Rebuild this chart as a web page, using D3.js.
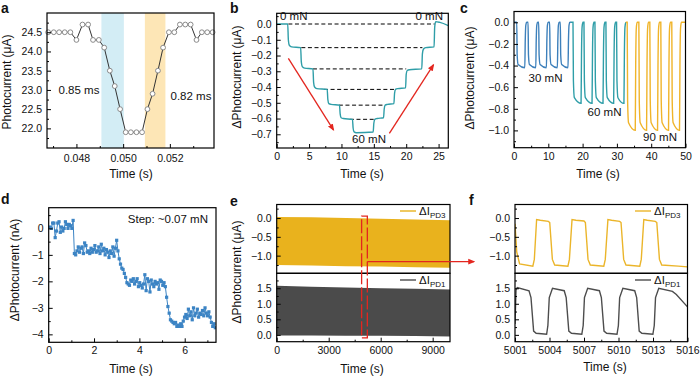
<!DOCTYPE html>
<html>
<head>
<meta charset="utf-8">
<script src="https://cdn.jsdelivr.net/npm/d3@7/dist/d3.min.js"></script>
<style>
  body { margin: 0; background: #fff; }
  svg { font-family: "Liberation Sans", Arial, Helvetica, sans-serif; }
</style>
</head>
<body>
<div id="chart"></div>
<script>
// ---------- values ----------

// (a) single press / release pulse
var aTime = [0.04679, 0.04703, 0.04726, 0.04750, 0.04774, 0.04800, 0.04826, 0.04850, 0.04871, 0.04896,
             0.04919, 0.04943, 0.04964, 0.04987, 0.05011, 0.05033, 0.05057, 0.05081, 0.05104, 0.05126,
             0.05149, 0.05171, 0.05196, 0.05219, 0.05243, 0.05266, 0.05289, 0.05314, 0.05337, 0.05360, 0.05383];
var aCurrent = [24.5, 24.5, 24.5, 24.5, 24.5, 24.3, 24.7, 24.7, 24.3, 24.3,
                24.1, 23.5, 23.1, 22.5, 21.9, 21.9, 21.9, 21.9, 22.5, 22.9,
                23.5, 24.1, 24.5, 24.5, 24.7, 24.7, 24.7, 24.3, 24.5, 24.5, 24.5];
var aFallBand = [0.04907, 0.05003];
var aRiseBand = [0.05093, 0.05181];
var aXTicks = [0.048, 0.050, 0.052];
var aYTicks = [22.0, 22.5, 23.0, 23.5, 24.0, 24.5];

// (b) staircase loading 0 -> 60 mN -> 0
var bTime = [0, 1.7, 1.8, 1.95, 2.3, 3.7, 3.8, 3.95, 4.3, 5.6, 5.7, 5.85, 6.2, 7.8, 7.9, 8.05, 8.4,
             9.7, 9.8, 9.95, 10.3, 11.7, 11.8, 11.95, 12.3, 14.9, 15.0, 15.15, 15.5, 16.5, 16.6, 16.75, 17.1,
             18.1, 18.2, 18.35, 18.7, 19.9, 20.0, 20.15, 20.5, 22.4, 22.5, 22.65, 23.0, 24.3, 24.4, 24.55, 25.2, 26.5];
var bValue = [0, 0, -0.1, -0.135, -0.145, -0.15, -0.24, -0.27, -0.28, -0.285, -0.37, -0.40, -0.41,
              -0.415, -0.48, -0.505, -0.51, -0.515, -0.57, -0.595, -0.60, -0.605, -0.66, -0.685, -0.69,
              -0.685, -0.63, -0.605, -0.60, -0.595, -0.54, -0.515, -0.51, -0.505, -0.44, -0.415, -0.41,
              -0.405, -0.32, -0.295, -0.29, -0.285, -0.19, -0.16, -0.15, -0.145, -0.02, 0.015, 0.01, -0.01];
var bDashLevel = [0, -0.15, -0.285, -0.415, -0.515, -0.605];
var bDashStart = [1.8, 3.8, 5.6, 7.3, 9.6, 11.3];
var bDashEnd = [24.4, 22.5, 20.0, 18.2, 16.6, 15.0];
var bXTicks = [0, 5, 10, 15, 20, 25];
var bYTicks = [0, -0.1, -0.2, -0.3, -0.4, -0.5, -0.6, -0.7];

// (c) repeated pulses at three forces
var cForce = ['30 mN', '60 mN', '90 mN'];
var cSpan = [[0, 16.6], [16.6, 32.6], [32.6, 50]];
var cLevel = [-0.42, -0.75, -1.0];
var cDown = [[0.8, 4.1, 7.2, 10.4, 13.5], [17.2, 20.4, 23.6, 26.8, 29.9], [33.0, 36.4, 39.6, 42.8, 46.0]];
var cUp = [[3.2, 6.4, 9.5, 12.7, 15.8], [19.6, 22.8, 26.0, 29.1, 32.1], [35.4, 38.7, 41.9, 45.1, 48.3]];
var cXTicks = [0, 10, 20, 30, 40, 50];
var cYTicks = [0, -0.2, -0.4, -0.6, -0.8, -1.0];

// (d) fine steps, nA, sampled every dStep seconds
var dStart = 0.06, dStep = 0.0565;
var dValue = [0.05, 0.0, 0.2, 0.2, -0.35, -0.1, 0.2, 0.25, -0.15, 0.05, -0.1, 0.0, 0.25, 0.15, 0.0, 0.15, 0.1, 0.0, 0.3,
              -0.95, -1.0, -0.85, -0.7, -0.9, -0.75, -0.7, -0.95, -0.55, -0.65, -0.9, -0.85, -0.95, -0.75, -0.9, -0.8,
              -0.65, -0.9, -0.85, -0.7, -0.95, -0.6, -0.85, -0.75, -1.0, -0.8, -0.9, -1.1, -0.85, -0.95, -0.7, -1.05,
              -0.75, -0.45,
              -0.85, -1.15, -1.35, -1.5, -1.55, -1.7, -1.85, -2.05, -2.1,
              -2.15, -1.95, -2.0, -1.9, -2.1, -2.0, -1.9, -2.2, -2.05, -2.15, -2.25, -2.1, -1.75, -2.35, -1.9,
              -2.0, -2.4, -1.95, -2.1, -2.2, -2.0, -2.1, -2.05, -2.3, -1.95, -2.0, -2.15, -2.05, -2.2,
              -2.6, -2.95, -3.2, -3.45,
              -3.5, -3.55, -3.6, -3.55, -3.7, -3.65, -3.7, -3.6, -3.7, -3.5, -3.35,
              -3.25, -3.4, -3.05, -3.3, -3.15, -3.45, -3.0, -3.3, -3.2, -3.05, -3.35, -3.2, -3.25, -3.1, -3.3, -3.0, -3.2, -3.3,
              -3.15, -3.35, -3.55, -3.7, -3.6, -3.75];
var dXTicks = [0, 2, 4, 6];
var dYTicks = [0, -1, -2, -3, -4];

// (e) long-term cycling, envelopes of the dense oscillation (uA)
var eTime = [0, 2000, 4000, 6000, 8000, 10000];
var ePd3Top = [0.03, 0.02, 0.0, -0.02, -0.04, -0.06];
var ePd3Bottom = [-1.25, -1.26, -1.28, -1.29, -1.31, -1.32];
var ePd1Top = [1.58, 1.55, 1.52, 1.5, 1.48, 1.46];
var ePd1Bottom = [-0.02, -0.02, -0.03, -0.03, -0.04, -0.05];
var eZoomWindow = [4900, 5230];
var eXTicks = [0, 3000, 6000, 9000];

// (f) zoom on 5001-5016 s
var fTime3 = [5001.0, 5001.15, 5001.4, 5002.55, 5002.68, 5002.88, 5003.2, 5003.9, 5004.02, 5004.25, 5004.45,
              5005.6, 5005.73, 5005.96, 5006.3, 5007.0, 5007.12, 5007.35, 5007.55, 5008.72, 5008.85, 5009.08,
              5009.4, 5010.1, 5010.22, 5010.45, 5010.65, 5011.85, 5011.98, 5012.2, 5012.5, 5013.2, 5013.33,
              5013.56, 5013.76, 5015.2, 5016.0];
var fValue3 = [-0.15, -0.9, -1.22, -1.28, -1.1, -0.04, -0.06, -0.09, -0.12, -1.1, -1.25,
               -1.28, -1.1, -0.04, -0.06, -0.08, -0.12, -1.1, -1.25, -1.28, -1.1, -0.04,
               -0.06, -0.09, -0.12, -1.1, -1.25, -1.28, -1.1, -0.04, -0.06, -0.09, -0.12,
               -1.1, -1.25, -1.28, -1.3];
var fTime1 = [5001.0, 5001.09, 5001.2, 5002.22, 5002.39, 5002.62, 5002.84, 5003.75, 5003.86, 5003.98,
              5004.26, 5005.28, 5005.45, 5005.68, 5005.91, 5006.81, 5006.93, 5007.04, 5007.32, 5008.34,
              5008.51, 5008.74, 5008.97, 5009.87, 5009.99, 5010.10, 5010.38, 5011.41, 5011.58, 5011.80,
              5012.03, 5012.99, 5013.11, 5013.22, 5013.50, 5014.69, 5015.03, 5016.0];
var fValue1 = [0.35, 1.45, 1.52, 1.42, 1.2, 0.12, 0.05, 0.02, 0.3, 1.2,
               1.5, 1.42, 1.2, 0.12, 0.05, 0.02, 0.3, 1.2, 1.5, 1.42,
               1.2, 0.12, 0.05, 0.02, 0.3, 1.2, 1.5, 1.42, 1.2, 0.12,
               0.05, 0.02, 0.3, 1.2, 1.5, 1.4, 1.3, 0.9];
var fXTicks = [5001, 5004, 5007, 5010, 5013, 5016];
var pd3Ticks = [0, -0.5, -1.0];
var pd1Ticks = [0, 0.5, 1.0, 1.5];

// ---------- drawing ----------
var red = '#e3261f', teal = '#2f9ea8', blue = '#3d80bb', gold = '#f0b429';
var tickFont = 10.5, titleFont = 12;

var svg = d3.select('#chart').append('svg').attr('width', 700).attr('height', 377);
var defs = svg.append('defs');
defs.append('marker').attr('id', 'arrowRed')
    .attr('viewBox', '0 0 10 10').attr('refX', 8).attr('refY', 5)
    .attr('markerWidth', 5.5).attr('markerHeight', 5.5).attr('orient', 'auto')
  .append('path').attr('d', 'M0,1 L10,5 L0,9 Z').attr('fill', red);

var clipCount = 0;
function clip(x, y) {
  var id = 'clip' + (clipCount++);
  defs.append('clipPath').attr('id', id).append('rect')
      .attr('x', x.range()[0]).attr('y', y.range()[1])
      .attr('width', x.range()[1] - x.range()[0])
      .attr('height', y.range()[0] - y.range()[1]);
  return 'url(#' + id + ')';
}

function frame(x, y) {
  svg.append('rect')
     .attr('x', x.range()[0]).attr('y', y.range()[1])
     .attr('width', x.range()[1] - x.range()[0])
     .attr('height', y.range()[0] - y.range()[1])
     .attr('fill', 'none').attr('stroke', '#000').attr('stroke-width', 1.2);
}

function styleAxis(g) {
  g.select('.domain').remove();
  g.attr('font-family', null).attr('font-size', tickFont);
  g.selectAll('line').attr('stroke', '#000');
  g.selectAll('text').attr('fill', '#111');
}

function axisY(x, y, major, minor, fmt) {
  var x0 = x.range()[0];
  svg.append('g').attr('transform', 'translate(' + x0 + ',0)')
     .call(d3.axisLeft(y).tickValues(minor).tickSize(-2).tickFormat(''))
     .call(styleAxis);
  svg.append('g').attr('transform', 'translate(' + x0 + ',0)')
     .call(d3.axisLeft(y).tickValues(major).tickSize(-4).tickPadding(5).tickFormat(fmt))
     .call(styleAxis);
}

function axisX(x, y, major, minor, fmt, pad) {
  var y0 = y.range()[0];
  svg.append('g').attr('transform', 'translate(0,' + y0 + ')')
     .call(d3.axisBottom(x).tickValues(minor).tickSize(-2).tickFormat(''))
     .call(styleAxis);
  svg.append('g').attr('transform', 'translate(0,' + y0 + ')')
     .call(d3.axisBottom(x).tickValues(major).tickSize(-4).tickPadding(pad).tickFormat(fmt))
     .call(styleAxis);
}

function label(txt, x, y, opts) {
  opts = opts || {};
  var t = svg.append('text').attr('x', x).attr('y', y)
     .attr('font-size', opts.size || tickFont)
     .attr('text-anchor', opts.anchor || 'start')
     .attr('fill', '#111')
     .text(txt);
  if (opts.bold) t.attr('font-weight', 'bold');
  if (opts.rotate) t.attr('transform', 'rotate(-90,' + x + ',' + y + ')');
  return t;
}

function panelLetter(txt, x, y) { label(txt, x, y, {size: 14, bold: true}); }

function range(a, b, s) { return d3.range(a, b + s / 2, s); }

// ----- (a)
var ax = d3.scaleLinear().domain([0.04674, 0.05389]).range([47, 214]);
var ay = d3.scaleLinear().domain([21.49, 25.0]).range([148, 13]);
var aClip = clip(ax, ay);
[[aFallBand, '#d3edf5'], [aRiseBand, '#fde6b6']].forEach(function(b) {
  svg.append('rect').attr('clip-path', aClip)
     .attr('x', ax(b[0][0])).attr('width', ax(b[0][1]) - ax(b[0][0]))
     .attr('y', ay.range()[1]).attr('height', ay.range()[0] - ay.range()[1])
     .attr('fill', b[1]);
});
var aPts = aTime.map(function(t, i) { return [t, aCurrent[i]]; });
svg.append('path').datum(aPts).attr('clip-path', aClip)
   .attr('fill', 'none').attr('stroke', '#333').attr('stroke-width', 1)
   .attr('d', d3.line().x(function(d) { return ax(d[0]); }).y(function(d) { return ay(d[1]); }));
svg.append('g').selectAll('circle').data(aPts).enter().append('circle')
   .attr('cx', function(d) { return ax(d[0]); }).attr('cy', function(d) { return ay(d[1]); })
   .attr('r', 2.4).attr('fill', '#fff').attr('stroke', '#8a8a8a').attr('stroke-width', 1);
frame(ax, ay);
axisY(ax, ay, aYTicks, range(21.75, 24.75, 0.5), d3.format('.1f'));
axisX(ax, ay, aXTicks, [0.047, 0.049, 0.051, 0.053], d3.format('.3f'), 7);
label('0.85 ms', 79, 94, {size: 11.5, anchor: 'middle'});
label('0.82 ms', 191, 100, {size: 11.5, anchor: 'middle'});
label('Photocurrent (\u03bcA)', 11, 82, {size: titleFont, anchor: 'middle', rotate: true});
label('Time (s)', 131, 178, {size: titleFont, anchor: 'middle'});
panelLetter('a', 1, 13);

// ----- (b)
var bx = d3.scaleLinear().domain([0, 26.5]).range([276.7, 448.3]);
var by = d3.scaleLinear().domain([-0.787, 0.068]).range([148, 13.3]);
var bClip = clip(bx, by);
bDashLevel.forEach(function(v, i) {
  svg.append('line')
     .attr('x1', bx(bDashStart[i])).attr('x2', bx(bDashEnd[i]))
     .attr('y1', by(v)).attr('y2', by(v))
     .attr('stroke', '#000').attr('stroke-width', 1).attr('stroke-dasharray', '4,2.6');
});
svg.append('path').datum(bTime.map(function(t, i) { return [t, bValue[i]]; }))
   .attr('clip-path', bClip).attr('fill', 'none').attr('stroke', teal).attr('stroke-width', 1.4)
   .attr('d', d3.line().curve(d3.curveMonotoneX)
                .x(function(d) { return bx(d[0]); }).y(function(d) { return by(d[1]); }));
[[1.8, -0.218, 8.76, -0.672], [17.4, -0.694, 24.2, -0.26]].forEach(function(a) {
  svg.append('line')
     .attr('x1', bx(a[0])).attr('y1', by(a[1])).attr('x2', bx(a[2])).attr('y2', by(a[3]))
     .attr('stroke', red).attr('stroke-width', 1.3).attr('marker-end', 'url(#arrowRed)');
});
frame(bx, by);
axisY(bx, by, bYTicks, range(-0.75, 0.05, 0.1), d3.format('.1f'));
axisX(bx, by, bXTicks, [2.5, 7.5, 12.5, 17.5, 22.5], d3.format('d'), 5);
label('0 mN', 280, 20, {size: 11.5});
label('0 mN', 443, 20, {size: 11.5, anchor: 'end'});
label('60 mN', 369, 142.5, {size: 11.5, anchor: 'middle'});
label('\u0394Photocurrent (\u03bcA)', 241, 77, {size: titleFont, anchor: 'middle', rotate: true});
label('Time (s)', 362, 178, {size: titleFont, anchor: 'middle'});
panelLetter('b', 230, 13);

// ----- (c)
var cx = d3.scaleLinear().domain([0, 50]).range([514, 685.5]);
var cy = d3.scaleLinear().domain([-1.16, 0.10]).range([147.7, 11.5]);
var cClip = clip(cx, cy);
var cColor = [blue, teal, gold];
var cLine = d3.line().curve(d3.curveMonotoneX)
              .x(function(d) { return cx(d[0]); }).y(function(d) { return cy(d[1]); });
cSpan.forEach(function(span, k) {
  var L = cLevel[k];
  var pts = [[span[0], 0]];
  cDown[k].forEach(function(td, i) {
    var tu = cUp[k][i];
    pts.push([td, 0], [td + 0.12, 0.72 * L], [td + 0.4, 0.93 * L], [tu - 0.05, L],
             [tu + 0.08, 0.4 * L], [tu + 0.25, 0.06 * L], [tu + 0.5, 0]);
  });
  pts.push([span[1], 0]);
  svg.append('path').datum(pts).attr('clip-path', cClip)
     .attr('fill', 'none').attr('stroke', cColor[k]).attr('stroke-width', 1.4).attr('d', cLine);
});
frame(cx, cy);
axisY(cx, cy, cYTicks, range(-1.1, -0.1, 0.2), d3.format('.1f'));
axisX(cx, cy, cXTicks, [5, 15, 25, 35, 45], d3.format('d'), 5);
label(cForce[0], 545.5, 81.5, {size: 11.5, anchor: 'middle'});
label(cForce[1], 604.5, 116, {size: 11.5, anchor: 'middle'});
label(cForce[2], 660, 140.5, {size: 11.5, anchor: 'middle'});
label('\u0394Photocurrent (\u03bcA)', 474, 78, {size: titleFont, anchor: 'middle', rotate: true});
label('Time (s)', 598, 178, {size: titleFont, anchor: 'middle'});
panelLetter('c', 460, 13);

// ----- (d)
var dx = d3.scaleLinear().domain([0, 7.38]).range([48.7, 216]);
var dy = d3.scaleLinear().domain([-4.3, 0.78]).range([342.3, 207.7]);
var dClip = clip(dx, dy);
var dPts = dValue.map(function(v, i) { return [dStart + i * dStep, v]; });
svg.append('path').datum(dPts).attr('clip-path', dClip)
   .attr('fill', 'none').attr('stroke', '#3c84c4').attr('stroke-width', 1)
   .attr('d', d3.line().x(function(d) { return dx(d[0]); }).y(function(d) { return dy(d[1]); }));
svg.append('g').attr('clip-path', dClip).selectAll('rect').data(dPts).enter().append('rect')
   .attr('x', function(d) { return dx(d[0]) - 1.6; }).attr('y', function(d) { return dy(d[1]) - 1.6; })
   .attr('width', 3.2).attr('height', 3.2).attr('fill', '#3c84c4');
frame(dx, dy);
axisY(dx, dy, dYTicks, [-3.5, -2.5, -1.5, -0.5, 0.5], d3.format('d'));
axisX(dx, dy, dXTicks, [1, 3, 5, 7], d3.format('d'), 4.5);
label('Step: ~0.07 mN', 208, 223, {size: 11.5, anchor: 'end'});
label('\u0394Photocurrent (nA)', 19, 270, {size: titleFont, anchor: 'middle', rotate: true});
label('Time (s)', 131, 373, {size: titleFont, anchor: 'middle'});
panelLetter('d', 1, 204);

// ----- (e) and (f) share the two stacked y scales
function stacked(xr, xd) {
  var x = d3.scaleLinear().domain(xd).range(xr);
  var y3 = d3.scaleLinear().domain([-1.47, 0.36]).range([273.3, 204.5]);
  var y1 = d3.scaleLinear().domain([-0.22, 1.98]).range([341.7, 273.3]);
  return {x: x, y3: y3, y1: y1};
}
function legend(x, y, color, sub) {
  svg.append('line').attr('x1', x).attr('x2', x + 16).attr('y1', y).attr('y2', y)
     .attr('stroke', color).attr('stroke-width', 1.4);
  var t = svg.append('text').attr('x', x + 19).attr('y', y + 4)
     .attr('font-size', 11.5).attr('fill', '#111').text('\u0394I');
  t.append('tspan').attr('font-size', 8).attr('dy', 2.5).text(sub);
}
function stackedAxes(s, xTicks, xMinor) {
  frame(s.x, s.y3);
  frame(s.x, s.y1);
  axisY(s.x, s.y3, pd3Ticks, [-1.25, -0.75, -0.25, 0.25], d3.format('.1f'));
  axisY(s.x, s.y1, pd1Ticks, [0.25, 0.75, 1.25, 1.75], d3.format('.1f'));
  axisX(s.x, s.y1, xTicks, xMinor, d3.format('d'), 4.5);
}

var e = stacked([276.7, 450], [0, 10000]);
var eClip3 = clip(e.x, e.y3), eClip1 = clip(e.x, e.y1);
svg.append('path').datum(eTime).attr('clip-path', eClip3).attr('fill', '#e9b21d')
   .attr('d', d3.area().x(function(d) { return e.x(d); })
                .y0(function(d, i) { return e.y3(ePd3Bottom[i]); })
                .y1(function(d, i) { return e.y3(ePd3Top[i]); }));
svg.append('path').datum(eTime).attr('clip-path', eClip1).attr('fill', '#4b4b4b')
   .attr('d', d3.area().x(function(d) { return e.x(d); })
                .y0(function(d, i) { return e.y1(ePd1Bottom[i]); })
                .y1(function(d, i) { return e.y1(ePd1Top[i]); }));
stackedAxes(e, eXTicks, [1500, 4500, 7500]);
legend(400, 211, '#e9b21d', 'PD3');
legend(400, 280, '#4b4b4b', 'PD1');
svg.append('rect')
   .attr('x', e.x(eZoomWindow[0])).attr('width', e.x(eZoomWindow[1]) - e.x(eZoomWindow[0]))
   .attr('y', e.y3(0.05)).attr('height', e.y1(-0.1) - e.y3(0.05))
   .attr('fill', 'none').attr('stroke', red).attr('stroke-width', 1.3).attr('stroke-dasharray', '14,3');
label('\u0394Photocurrent (\u03bcA)', 241, 272, {size: titleFont, anchor: 'middle', rotate: true});
label('Time (s)', 362, 373, {size: titleFont, anchor: 'middle'});
panelLetter('e', 230, 206);

var f = stacked([515, 687.5], [5001, 5016]);
var fClip3 = clip(f.x, f.y3), fClip1 = clip(f.x, f.y1);
svg.append('path').datum(fTime3.map(function(t, i) { return [t, fValue3[i]]; }))
   .attr('clip-path', fClip3).attr('fill', 'none').attr('stroke', '#ebb52a').attr('stroke-width', 1.4)
   .attr('d', d3.line().x(function(d) { return f.x(d[0]); }).y(function(d) { return f.y3(d[1]); }));
svg.append('path').datum(fTime1.map(function(t, i) { return [t, fValue1[i]]; }))
   .attr('clip-path', fClip1).attr('fill', 'none').attr('stroke', '#4d4d4d').attr('stroke-width', 1.4)
   .attr('d', d3.line().x(function(d) { return f.x(d[0]); }).y(function(d) { return f.y1(d[1]); }));
stackedAxes(f, fXTicks, [5002.5, 5005.5, 5008.5, 5011.5, 5014.5]);
legend(635, 211, '#ebb52a', 'PD3');
legend(635, 280, '#4d4d4d', 'PD1');
label('Time (s)', 605, 371, {size: titleFont, anchor: 'middle'});
panelLetter('f', 469, 205);

// arrow from the window in (e) to panel (f)
svg.append('line')
   .attr('x1', e.x(eZoomWindow[1])).attr('x2', f.x.range()[0] - 41)
   .attr('y1', e.y3(-1.16)).attr('y2', e.y3(-1.16))
   .attr('stroke', red).attr('stroke-width', 1.3).attr('marker-end', 'url(#arrowRed)');
</script>
</body>
</html>
